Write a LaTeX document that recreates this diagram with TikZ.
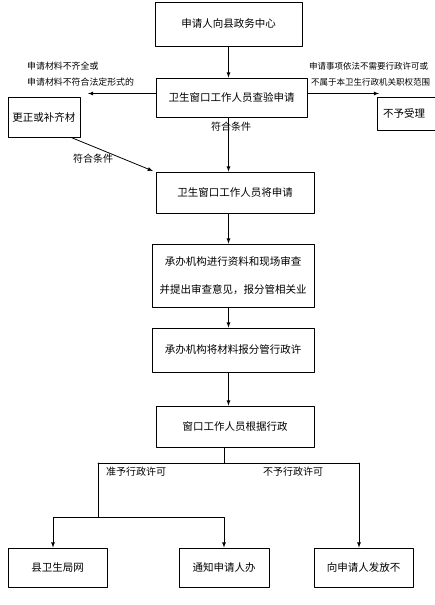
\documentclass[tikz,border=0pt]{standalone}
\usepackage{fontspec}
\newfontfamily\cjk{Noto Sans CJK SC}
\tikzset{
  box/.style={draw,line width=0.8pt,inner sep=0pt,font=\cjk\fontsize{10.5}{12}\selectfont},
  note/.style={anchor=west,inner sep=0pt,font=\cjk\fontsize{8.9}{10}\selectfont},
  cond/.style={anchor=west,inner sep=0pt,font=\cjk\fontsize{10}{12}\selectfont},
}
\begin{document}
\begin{tikzpicture}[x=1pt,y=-1pt,line cap=round,line join=round,>=latex]
  \useasboundingbox (0,0) rectangle (435,605);
  \clip (0,0) rectangle (435,605);
  % boxes
  \node[box,minimum width=147pt,minimum height=44pt] (apply) at (228.5,24) {申请人向县政务中心};
  \node[box,minimum width=151pt,minimum height=39pt] (check) at (231.5,97.5) {卫生窗口工作人员查验申请};
  \node[box,minimum width=72pt,minimum height=40pt] (fix) at (44,117) {更正或补齐材};
  \node[box,minimum height=33pt,text width=56pt,inner xsep=6pt,align=left] (reject) at (411,113.5) {不予受理};
  \node[box,minimum width=158pt,minimum height=41pt] (forward) at (235,192.5) {卫生窗口工作人员将申请};
  \node[box,minimum width=162pt,minimum height=63pt,align=center,font=\cjk\fontsize{10.5}{28}\selectfont] (review) at (233,275.5) {承办机构进行资料和现场审查\\并提出审查意见，报分管相关业};
  \node[box,minimum width=162pt,minimum height=44pt] (report) at (233,350) {承办机构将材料报分管行政许};
  \node[box,minimum width=158pt,minimum height=41pt] (decide) at (235,426.5) {窗口工作人员根据行政};
  \node[box,minimum width=99pt,minimum height=39pt] (publish) at (57.5,567.5) {县卫生局网};
  \node[box,minimum width=90pt,minimum height=39pt] (notify) at (224,567.5) {通知申请人办};
  \node[box,minimum width=99pt,minimum height=39pt] (deny) at (363.5,567.5) {向申请人发放不};
  % texts
  \node[note] (lacka) at (27,66) {申请材料不齐全或};
  \node[note] (lackb) at (27,82) {申请材料不符合法定形式的};
  \node[note,font=\cjk\fontsize{8.5}{10}\selectfont] (outa) at (309,66) {申请事项依法不需要行政许可或};
  \node[note,font=\cjk\fontsize{8.5}{10}\selectfont] (outb) at (311,82) {不属于本卫生行政机关职权范围};
  \node[cond] (oka) at (211,127) {符合条件};
  \node[cond] (okb) at (73,159) {符合条件};
  \node[cond] (grant) at (106,472) {准予行政许可};
  \node[cond] (refuse) at (263,472) {不予行政许可};
  % connectors
  \coordinate (fixin) at (88,93.5);
  \coordinate (rejin) at (379,93.5);
  \coordinate (fwdin) at (153,171);
  \coordinate (yes) at (98,463);
  \coordinate (no) at (359,463);
  \coordinate (yesmid) at (98,517);
  \draw[line width=0.8pt,->] (apply.south) -- (apply.south |- check.north);
  \draw[line width=0.8pt,->] (check.south -| apply.south) -- (apply.south |- forward.north);
  \draw[line width=0.8pt,->] (check.west |- fixin) -- (fixin);
  \draw[line width=0.8pt,->] (check.east |- rejin) -- (rejin);
  \draw[line width=0.8pt,->] ([xshift=27pt]fix.south) -- (fwdin);
  \draw[line width=0.8pt,->] (forward.south -| apply.south) -- (apply.south |- review.north);
  \draw[line width=0.8pt,->] (review.south -| apply.south) -- (apply.south |- report.north);
  \draw[line width=0.8pt,->] (report.south -| apply.south) -- (apply.south |- decide.north);
  \draw[line width=0.8pt] (decide.south -| notify) -- (notify |- yes);
  \draw[line width=0.8pt] (yes) -- (no);
  \draw[line width=0.8pt,->] (no) -- (no |- deny.north);
  \draw[line width=0.8pt] (yes) -- (yesmid);
  \draw[line width=0.8pt,->] (yesmid) -| ([xshift=-4.5pt]publish.north);
  \draw[line width=0.8pt,->] (yesmid) -| (notify.north);
\end{tikzpicture}
\end{document}
